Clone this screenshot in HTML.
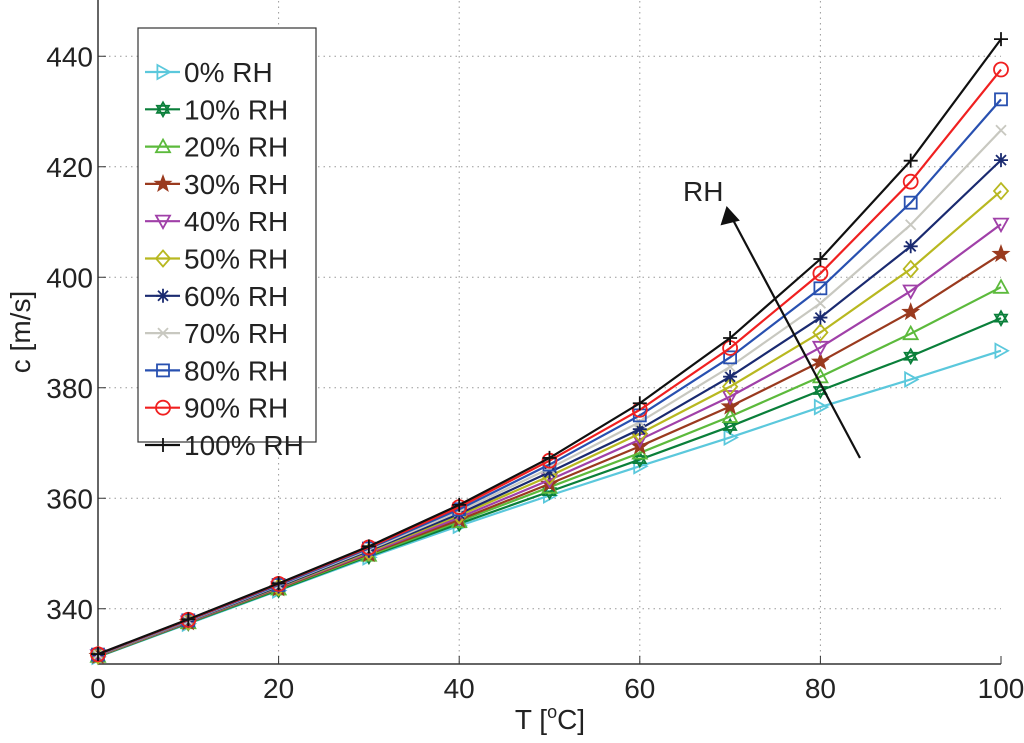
<!DOCTYPE html>
<html><head><meta charset="utf-8"><style>
body{margin:0;background:#fff;}
svg text{font-family:"Liberation Sans",Arial,sans-serif;}
</style></head><body>
<svg id="chart" width="1024" height="738" xmlns="http://www.w3.org/2000/svg"></svg>
<script>
const temps=[0,10,20,30,40,50,60,70,80,90,100];
const rh0=[331.3,337.3,343.3,349.3,355.0,360.5,365.8,371.0,376.5,381.5,386.7];
const rh10=[331.35,337.4,343.4,349.5,355.4,361.2,367.0,373.0,379.5,385.7,392.6];
const rh20=[331.4,337.5,343.6,349.7,355.8,362.0,368.2,374.8,382.0,389.8,398.2];
const rh30=[331.45,337.55,343.7,349.9,356.1,362.6,369.4,376.6,384.7,393.7,404.2];
const rh40=[331.5,337.6,343.8,350.1,356.5,363.3,370.6,378.4,387.3,397.5,409.6];
const rh50=[331.55,337.7,343.9,350.3,356.9,364.0,371.7,380.2,390.0,401.5,415.6];
const rh60=[331.6,337.75,344.0,350.5,357.2,364.7,372.5,382.0,392.7,405.6,421.2];
const rh70=[331.65,337.8,344.2,350.7,357.6,365.4,373.8,383.8,395.3,409.5,426.6];
const rh80=[331.7,337.9,344.3,350.9,358.0,366.1,375.0,385.5,398.0,413.5,432.2];
const rh90=[331.75,338.0,344.5,351.1,358.4,366.8,376.0,387.2,400.7,417.3,437.6];
const rh100=[331.8,338.1,344.6,351.3,358.8,367.3,377.2,389.0,403.3,421.1,443.1];
const seriesLabels=["0% RH","10% RH","20% RH","30% RH","40% RH","50% RH","60% RH","70% RH","80% RH","90% RH","100% RH"];
const seriesData=[rh0,rh10,rh20,rh30,rh40,rh50,rh60,rh70,rh80,rh90,rh100];
const xTicks=[0,20,40,60,80,100];
const yTicks=[340,360,380,400,420,440];

const colors=["#5bc8dc","#0a7f3a","#5cba3c","#9a3a1e","#a040a8","#b8b820","#1a2a70","#c8c8c0","#2850b0","#f02020","#101010"];
const markers=["tri-right","hexstar","tri-up","star","tri-down","diamond","asterisk","x","square","circle","plus"];
const NS="http://www.w3.org/2000/svg";
const svg=document.getElementById('chart');
const L=98,R=1001,T=1,B=664,xmin=0,xmax=100,ymin=330,ymax=450;
const sx=v=>L+(v-xmin)/(xmax-xmin)*(R-L);
const sy=v=>B-(v-ymin)/(ymax-ymin)*(B-T);
function el(t,a,p){const e=document.createElementNS(NS,t);for(const k in a)e.setAttribute(k,a[k]);(p||svg).appendChild(e);return e;}
function marker(type,x,y,c,g){
  const s=7;let e;
  const st={fill:'none',stroke:c,'stroke-width':1.8};
  if(type==='circle')e=el('circle',Object.assign({cx:x,cy:y,r:s},st),g);
  else if(type==='square')e=el('rect',Object.assign({x:x-s+1,y:y-s+1,width:2*s-2,height:2*s-2},st),g);
  else if(type==='diamond')e=el('polygon',Object.assign({points:`${x},${y-s-1} ${x+s},${y} ${x},${y+s+1} ${x-s},${y}`},st),g);
  else if(type==='tri-up')e=el('polygon',Object.assign({points:`${x},${y-s} ${x+s},${y+s*0.8} ${x-s},${y+s*0.8}`},st),g);
  else if(type==='tri-down')e=el('polygon',Object.assign({points:`${x},${y+s} ${x+s},${y-s*0.8} ${x-s},${y-s*0.8}`},st),g);
  else if(type==='tri-right')e=el('polygon',Object.assign({points:`${x+s},${y} ${x-s*0.8},${y-s} ${x-s*0.8},${y+s}`},st),g);
  else if(type==='plus')e=el('path',Object.assign({d:`M${x-s} ${y}H${x+s}M${x} ${y-s}V${y+s}`},st),g);
  else if(type==='x')e=el('path',Object.assign({d:`M${x-5} ${y-5}L${x+5} ${y+5}M${x-5} ${y+5}L${x+5} ${y-5}`},st),g);
  else if(type==='asterisk')e=el('path',Object.assign({d:`M${x-s} ${y}H${x+s}M${x} ${y-s}V${y+s}M${x-5} ${y-5}L${x+5} ${y+5}M${x-5} ${y+5}L${x+5} ${y-5}`},st),g);
  else if(type==='star'){let p=[];for(let i=0;i<10;i++){const r=i%2?3.5:8.5,a=-Math.PI/2+i*Math.PI/5;p.push((x+r*Math.cos(a)).toFixed(1)+','+(y+r*Math.sin(a)).toFixed(1));}e=el('polygon',{points:p.join(' '),fill:c,stroke:c,'stroke-width':1},g);}
  else if(type==='hexstar'){e=el('path',Object.assign({d:`M${x} ${y-s}L${x+6} ${y+3.5}L${x-6} ${y+3.5}ZM${x} ${y+s}L${x+6} ${y-3.5}L${x-6} ${y-3.5}Z`},st),g);}
  
  
  return e;
}
const FS=28;
// grid
const grid=el('g',{});
xTicks.forEach(v=>{if(v>0&&v<100)el('line',{x1:sx(v),x2:sx(v),y1:T,y2:B,stroke:'#999','stroke-dasharray':'1.5,4','stroke-width':1},grid);});
yTicks.forEach(v=>el('line',{x1:L,x2:R,y1:sy(v),y2:sy(v),stroke:'#999','stroke-dasharray':'1.5,4','stroke-width':1},grid));
// axes
const ax=el('g',{});
el('line',{x1:L,x2:L,y1:0,y2:B,stroke:'#333','stroke-width':1.5},ax);
el('line',{x1:L,x2:R,y1:B,y2:B,stroke:'#333','stroke-width':1.5},ax);
xTicks.forEach(v=>{el('line',{x1:sx(v),x2:sx(v),y1:B,y2:B-8,stroke:'#333'},ax);
  const t=el('text',{x:sx(v),y:B+34,'font-size':FS,'text-anchor':'middle',fill:'#222'},ax);t.textContent=v;
  });
yTicks.forEach(v=>{el('line',{x1:L,x2:L+8,y1:sy(v),y2:sy(v),stroke:'#333'},ax);
  const t=el('text',{x:L-5,y:sy(v)+10,'font-size':FS,'text-anchor':'end',fill:'#222'},ax);t.textContent=v;
  });
const xt=el('text',{x:550,y:729,'font-size':FS,'text-anchor':'middle',fill:'#222'});
xt.innerHTML='T [<tspan font-size="18" dy="-11">o</tspan><tspan dy="11">C]</tspan>';

const yt=el('text',{x:0,y:0,'font-size':FS,'text-anchor':'middle',fill:'#222',transform:'translate(30,332) rotate(-90)'});
yt.textContent='c [m/s]';
// series
seriesData.forEach((d,i)=>{
  const g=el('g',{});
  el('polyline',{points:d.map((v,j)=>sx(temps[j])+','+sy(v)).join(' '),fill:'none',stroke:colors[i],'stroke-width':2.2},g);
  d.forEach((v,j)=>marker(markers[i],sx(temps[j]),sy(v),colors[i],g));
});
// arrow
const ar=el('g',{});
el('line',{x1:860,y1:458,x2:732,y2:218,stroke:'#111','stroke-width':2.2},ar);
el('polygon',{points:'727,208 722,224 738,220',fill:'#111',stroke:'#111','stroke-width':2},ar);
const rt=el('text',{x:683,y:201,'font-size':FS,fill:'#222'},ar);rt.textContent='RH';
// legend
const lg=el('g',{});
el('rect',{x:138,y:28,width:178,height:414,fill:'#fff',stroke:'#333','stroke-width':1.2},lg);
seriesLabels.forEach((s,i)=>{
  const y=72+i*37.3;
  const g=el('g',{},lg);
  el('line',{x1:145,x2:180,y1:y,y2:y,stroke:colors[i],'stroke-width':2.2},g);
  marker(markers[i],163,y,colors[i],g);
  const t=el('text',{x:184,y:y+10,'font-size':FS,fill:'#222'},g);t.textContent=s;
});
</script>
</body></html>
